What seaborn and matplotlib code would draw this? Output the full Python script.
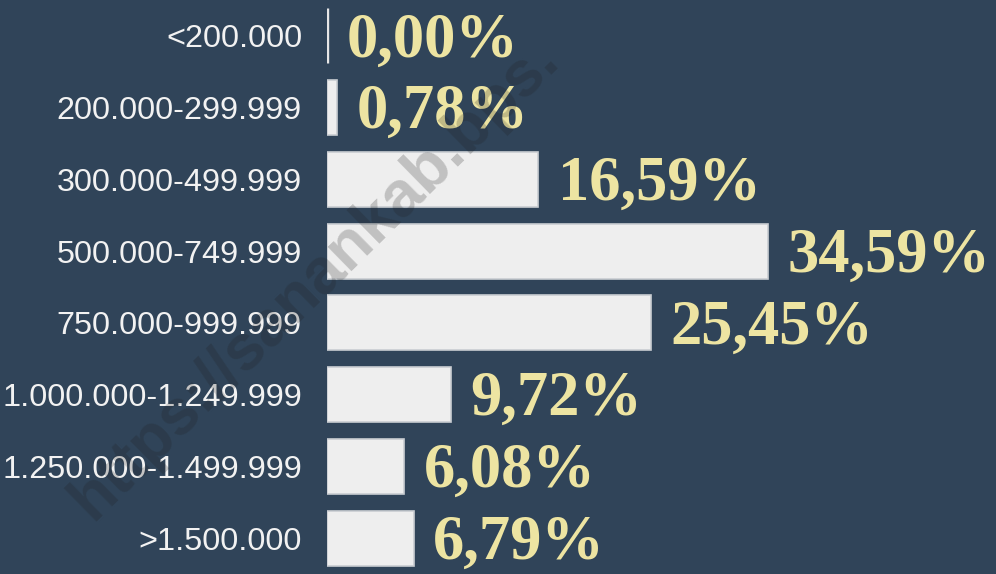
import matplotlib
matplotlib.use("Agg")
import matplotlib.pyplot as plt
import seaborn as sns
import pandas as pd

categories = ["<200.000", "200.000-299.999", "300.000-499.999", "500.000-749.999",
              "750.000-999.999", "1.000.000-1.249.999", "1.250.000-1.499.999", ">1.500.000"]
values = [0.00, 0.78, 16.59, 34.59, 25.45, 9.72, 6.08, 6.79]
value_labels = ["0,00%", "0,78%", "16,59%", "34,59%", "25,45%", "9,72%", "6,08%", "6,79%"]

BG = "#304459"
BAR = "#eeeeee"
GOLD = "#ede4a2"

sns.set_theme(style="white")
plt.rcParams["font.family"] = ["Liberation Sans", "DejaVu Sans"]

df = pd.DataFrame({"category": categories, "value": values})

fig = plt.figure(figsize=(9.96, 5.74), dpi=100, facecolor=BG)
ax = fig.add_axes([327 / 996, 0.0, 1 - 327 / 996, 1.0])
ax.set_facecolor(BG)

sns.barplot(data=df, y="category", x="value", orient="h", color=BAR,
            edgecolor="#c9cdd2", linewidth=1.2, width=0.77, saturation=1, ax=ax)

# zero-valued bar shows as a thin white stroke
for p, v in zip(ax.patches, values):
    if v == 0:
        p.set_edgecolor("#e6e6e6")
        p.set_linewidth(2.4)

ax.set_xlim(0, 52.5)
ax.set_ylim(7.5, -0.5)
ax.set_xlabel("")
ax.set_ylabel("")
ax.set_xticks([])
ax.tick_params(axis="y", length=0, pad=18, labelsize=23.3, labelcolor="#f2f2f2")
for s in ax.spines.values():
    s.set_visible(False)

for i, (v, lab) in enumerate(zip(values, value_labels)):
    ax.annotate(lab, xy=(v, i), xytext=(14, -4), textcoords="offset points",
                ha="left", va="center", color=GOLD, fontsize=45,
                fontweight="bold", family=["Liberation Serif", "DejaVu Serif"])

fig.text(92 / 996, 52 / 574, "https://sanankab.bps.", rotation=44.5,
         rotation_mode="anchor", ha="left", va="baseline", fontsize=46,
         fontweight="bold", color="#1e1e1e", alpha=0.22, zorder=10)

fig.savefig("out.png", dpi=100, facecolor=BG)
